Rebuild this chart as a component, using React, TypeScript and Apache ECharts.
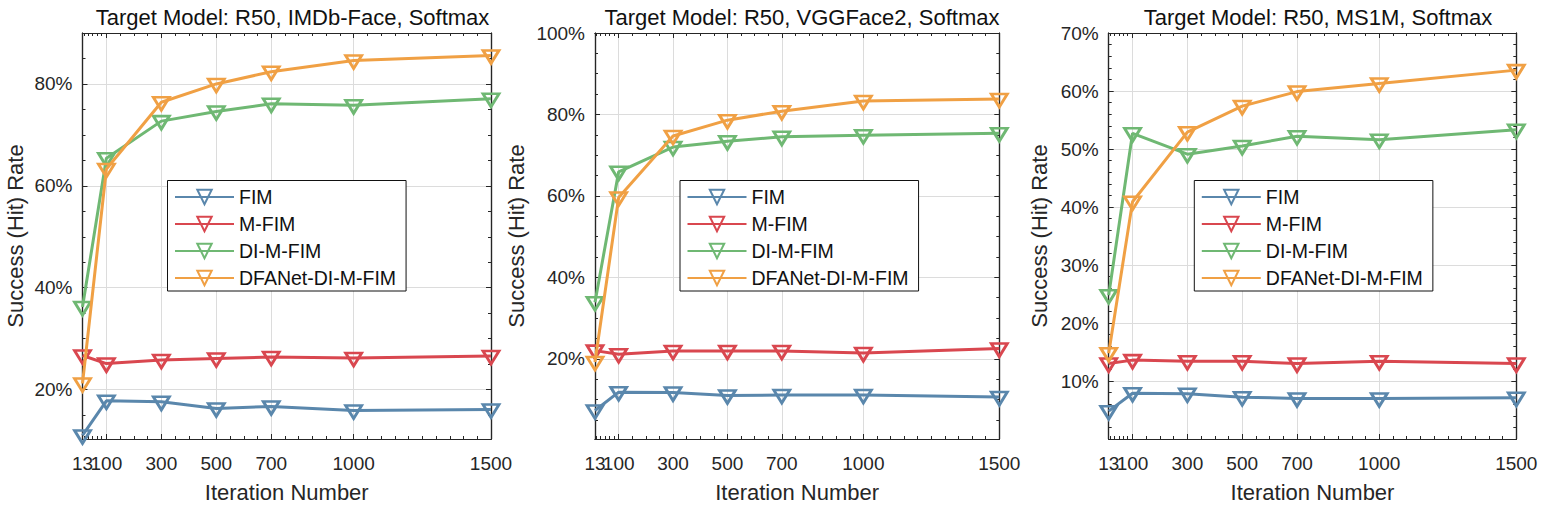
import React, { useEffect, useRef } from "react";
import * as echarts from "echarts";

const iterations = [13, 100, 300, 500, 700, 1000, 1500];
const xMajorTicks = [13, 100, 300, 500, 700, 1000, 1500];
const xFirstLabel = [13];
const xOtherLabels = [100, 300, 500, 700, 1000, 1500];
const xMinorTicks = [18, 33, 50, 65, 82, 150, 200, 250, 350, 400, 450, 550, 600, 650, 750, 800, 850, 900, 950, 1050, 1100, 1150, 1200, 1250, 1300, 1350, 1400, 1450];
const methodNames = ["FIM", "M-FIM", "DI-M-FIM", "DFANet-DI-M-FIM"];
const methodColors = ["#5a87ac", "#d9474f", "#6fb873", "#f0a044"];

const imdbFim = [11.0, 17.8, 17.6, 16.3, 16.7, 15.9, 16.1];
const imdbMFim = [26.7, 25.1, 25.8, 26.1, 26.4, 26.2, 26.6];
const imdbDi = [36.2, 65.4, 72.7, 74.6, 76.1, 75.8, 77.1];
const imdbDfa = [21.2, 63.3, 76.4, 80.0, 82.4, 84.6, 85.6];

const vggFim = [7.3, 11.8, 11.7, 11.0, 11.1, 11.1, 10.6];
const vggMFim = [22.0, 21.1, 21.9, 21.9, 21.9, 21.4, 22.5];
const vggDi = [33.9, 65.9, 72.0, 73.4, 74.5, 74.9, 75.4];
const vggDfa = [19.2, 59.6, 74.7, 78.6, 80.8, 83.3, 83.8];

const msFim = [4.8, 7.9, 7.8, 7.2, 7.0, 7.0, 7.1];
const msMFim = [13.0, 13.6, 13.4, 13.4, 13.0, 13.4, 13.0];
const msDi = [24.8, 52.7, 49.1, 50.5, 52.2, 51.6, 53.3];
const msDfa = [14.8, 40.9, 52.9, 57.4, 59.9, 61.3, 63.6];

const panels = [
  {
    title: "Target Model: R50, IMDb-Face, Softmax",
    values: [imdbFim, imdbMFim, imdbDi, imdbDfa],
    yMin: 10.3, yMax: 90,
    yMajor: [20, 40, 60, 80],
    yMinor: [15, 25, 30, 35, 45, 50, 55, 65, 70, 75, 85],
    left: 82.5, right: 491, legendLeft: 167.5, titleX: 287.5, nameGap: 56,
  },
  {
    title: "Target Model: R50, VGGFace2, Softmax",
    values: [vggFim, vggMFim, vggDi, vggDfa],
    yMin: 0.3, yMax: 100,
    yMajor: [20, 40, 60, 80, 100],
    yMinor: [5, 10, 15, 25, 30, 35, 45, 50, 55, 65, 70, 75, 85, 90, 95],
    left: 595, right: 999.3, legendLeft: 680, titleX: 797, nameGap: 68,
  },
  {
    title: "Target Model: R50, MS1M, Softmax",
    values: [msFim, msMFim, msDi, msDfa],
    yMin: 0, yMax: 70,
    yMajor: [10, 20, 30, 40, 50, 60, 70],
    yMinor: [2, 4, 6, 8, 12, 14, 16, 18, 22, 24, 26, 28, 32, 34, 36, 38, 42, 44, 46, 48, 52, 54, 56, 58, 62, 64, 66, 68],
    left: 1108.7, right: 1516.3, legendLeft: 1194.3, titleX: 1313, nameGap: 58,
  },
];

const TOP = 33;
const BOTTOM = 439;
const INK = "#262626";
const FONT = '"Liberation Sans", Arial, sans-serif';

function buildOption() {
  const grid: any[] = [];
  const xAxis: any[] = [];
  const yAxis: any[] = [];
  const series: any[] = [];
  const legend: any[] = [];
  const title: any[] = [];
  const plainLine = { show: true, onZero: false, lineStyle: { color: INK, width: 1.2 } };
  const tick = (length: number, values: number[]) => ({
    show: true, inside: true, length, customValues: values, lineStyle: { color: INK, width: 1 },
  });

  panels.forEach((p, i) => {
    grid.push({
      left: p.left, width: p.right - p.left, top: TOP, height: BOTTOM - TOP,
      containLabel: false, outerBoundsMode: "none",
    });
    title.push({
      text: p.title, left: p.titleX, top: 1, textAlign: "center",
      textStyle: { fontFamily: FONT, fontSize: 22, fontWeight: "normal", color: "#111111" },
    });

    const xBase = { type: "value", gridIndex: i, min: 13, max: 1500, axisLine: plainLine };
    const xLabel = (values: number[]) => ({
      show: true, customValues: values, margin: 15, fontFamily: FONT, fontSize: 19, color: INK,
      hideOverlap: false, formatter: (v: number) => String(v),
    });
    xAxis.push(
      {
        ...xBase, position: "bottom",
        name: "Iteration Number", nameLocation: "middle", nameGap: 42,
        nameTextStyle: { fontFamily: FONT, fontSize: 22, color: INK },
        axisTick: tick(5, xMajorTicks),
        axisLabel: xLabel(xOtherLabels),
        splitLine: { show: true, lineStyle: { color: "#dcdcdc", width: 1 } },
      },
      {
        ...xBase, position: "top",
        axisTick: tick(5, xMajorTicks),
        axisLabel: { show: false }, splitLine: { show: false },
      },
      {
        ...xBase, position: "bottom",
        axisTick: tick(3, xMinorTicks),
        axisLabel: xLabel(xFirstLabel), splitLine: { show: false },
      },
      {
        ...xBase, position: "top",
        axisTick: tick(3, xMinorTicks),
        axisLabel: { show: false }, splitLine: { show: false },
      },
    );

    const yBase = { type: "value", gridIndex: i, min: p.yMin, max: p.yMax, axisLine: plainLine };
    yAxis.push(
      {
        ...yBase, position: "left",
        name: "Success (Hit) Rate", nameLocation: "middle", nameRotate: 90,
        nameGap: p.nameGap,
        nameTextStyle: { fontFamily: FONT, fontSize: 22, color: INK },
        axisTick: tick(5, p.yMajor),
        axisLabel: {
          show: true, customValues: p.yMajor, margin: 10, fontFamily: FONT, fontSize: 19, color: INK,
          formatter: (v: number) => `${v}%`, hideOverlap: false, showMaxLabel: true,
        },
        splitLine: { show: true, lineStyle: { color: "#dcdcdc", width: 1 } },
      },
      {
        ...yBase, position: "right",
        axisTick: tick(5, p.yMajor),
        axisLabel: { show: false }, splitLine: { show: false },
      },
      {
        ...yBase, position: "left",
        axisTick: tick(3, p.yMinor),
        axisLabel: { show: false }, splitLine: { show: false },
      },
      {
        ...yBase, position: "right",
        axisTick: tick(3, p.yMinor),
        axisLabel: { show: false }, splitLine: { show: false },
      },
    );

    methodNames.forEach((name, m) => {
      series.push({
        type: "line", name,
        xAxisIndex: i * 4, yAxisIndex: i * 4,
        data: iterations.map((x, k) => [x, p.values[m][k]]),
        clip: false, z: 5 + m,
        symbol: "triangle", symbolRotate: 180, symbolSize: [16, 13], symbolOffset: [0, 1.5],
        showSymbol: true, showAllSymbol: true,
        lineStyle: { color: methodColors[m], width: 3 },
        itemStyle: { color: "transparent", borderColor: methodColors[m], borderWidth: 2.8 },
        emphasis: { disabled: true },
      });
    });

    legend.push({
      show: true, orient: "vertical", left: p.legendLeft, top: 180.5,
      data: methodNames, selectedMode: false, z: 4,
      padding: [6.5, 10, 3, 6.5], itemGap: 7, itemWidth: 59, itemHeight: 18,
      backgroundColor: "#ffffff", borderColor: "#111111", borderWidth: 1, borderRadius: 0,
      textStyle: { fontFamily: FONT, fontSize: 19.5, color: "#111111" },
    });
  });

  return { animation: false, backgroundColor: "#ffffff", title, grid, xAxis, yAxis, series, legend };
}

export default function App() {
  const ref = useRef<HTMLDivElement>(null);
  useEffect(() => {
    document.body.style.margin = "0";
    const chart = echarts.init(ref.current!, undefined, { renderer: "svg" });
    chart.setOption(buildOption() as any);
    return () => chart.dispose();
  }, []);
  return <div ref={ref} style={{ width: 1546, height: 505 }} />;
}
